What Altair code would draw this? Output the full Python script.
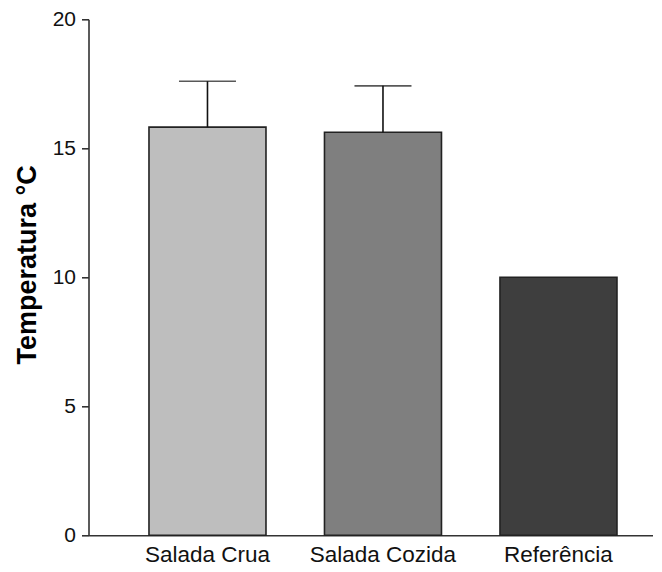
import altair as alt
import pandas as pd

categories = ["Salada Crua", "Salada Cozida", "Referência"]
values = [15.82, 15.62, 10.0]
errors = [1.78, 1.80, 0.0]
colors = ["#bebebe", "#7f7f7f", "#3e3e3e"]

df = pd.DataFrame({"cat": categories, "val": values, "err": errors})
df["top"] = df["val"] + df["err"]

FONT = "Liberation Sans"

xscale = alt.Scale(domain=categories, paddingInner=0.3333, paddingOuter=0.2735, align=0.63)
yscale = alt.Scale(domain=[0, 20], nice=False)

x = alt.X("cat:N", scale=xscale, sort=categories,
          axis=alt.Axis(title=None, ticks=False, labelAngle=0, labelPadding=8,
                        labelFontSize=22.5, labelFont=FONT, labelColor="#111",
                        domainColor="#333", domainWidth=1.6))

bars = alt.Chart(df).mark_bar(stroke="#222", strokeWidth=1.6).encode(
    x=x,
    y=alt.Y("val:Q", scale=yscale,
            axis=alt.Axis(title="Temperatura °C", values=[0, 5, 10, 15, 20], grid=False,
                          tickSize=7, tickColor="#333", tickWidth=1.6,
                          labelPadding=6, labelFontSize=21, labelFont=FONT, labelColor="#111",
                          domainColor="#333", domainWidth=1.6,
                          titleFont=FONT, titleFontSize=27, titleFontWeight="bold",
                          titleColor="#000", titlePadding=11, titleY=245)),
    color=alt.Color("cat:N", scale=alt.Scale(domain=categories, range=colors), legend=None),
)

errdf = alt.Chart(df).transform_filter(alt.datum.err > 0)

rules = errdf.mark_rule(color="#111", strokeWidth=1.6).encode(
    x=alt.X("cat:N", scale=xscale, sort=categories),
    y=alt.Y("val:Q", scale=yscale),
    y2="top:Q",
)

caps = errdf.mark_tick(color="#111", size=57, thickness=1.6).encode(
    x=alt.X("cat:N", scale=xscale, sort=categories),
    y=alt.Y("top:Q", scale=yscale),
)

chart = (bars + rules + caps).properties(
    width=564, height=516,
    autosize=alt.AutoSizeParams(type="none"),
    padding={"left": 80.5, "top": 11.3, "right": 0, "bottom": 36},
).configure_view(stroke=None)

chart.save("out.html", embed_options={"renderer": "svg", "actions": False})
